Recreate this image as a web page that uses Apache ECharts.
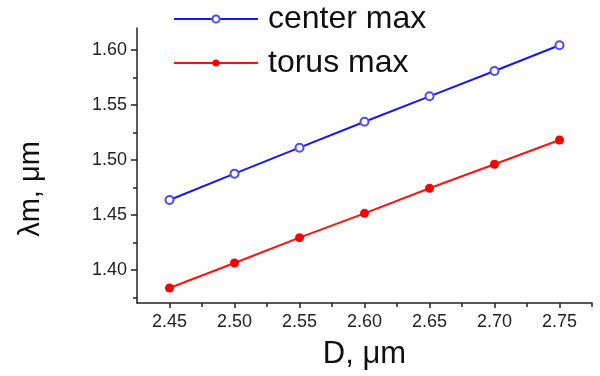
<!DOCTYPE html>
<html>
<head>
<meta charset="utf-8">
<script src="https://cdn.jsdelivr.net/npm/echarts@6/dist/echarts.min.js"></script>
<style>
  html, body { margin: 0; padding: 0; background: #fff; }
</style>
</head>
<body>
<div id="main" style="width:600px;height:376px;"></div>
<script>
// D, um
var dValues = [2.45, 2.50, 2.55, 2.60, 2.65, 2.70, 2.75];
// lambda_m, um
var centerMax = [1.4636, 1.4876, 1.5112, 1.5348, 1.5579, 1.5809, 1.6043];
var torusMax = [1.3836, 1.4064, 1.4294, 1.4515, 1.4743, 1.4961, 1.5182];

var xMajor = [2.45, 2.50, 2.55, 2.60, 2.65, 2.70, 2.75];
var xMinor = [2.475, 2.525, 2.575, 2.625, 2.675, 2.725, 2.775];
var yMajor = [1.40, 1.45, 1.50, 1.55, 1.60];
var yMinor = [1.375, 1.425, 1.475, 1.525, 1.575];

var font = "'Liberation Sans', Arial, sans-serif";
var axisColor = '#222';

var myChart = echarts.init(document.getElementById('main'));

var option = {
    backgroundColor: '#fff',
    animation: false,
    grid: { left: 137, right: 8, top: 28, bottom: 73 },
    legend: {
        orient: 'vertical',
        left: 173,
        top: 3,
        padding: 0,
        itemGap: 12,
        itemWidth: 84,
        itemHeight: 9,
        textStyle: { fontSize: 32, fontFamily: font, color: '#111', lineHeight: 32, padding: [0, 0, 0, 5] },
        data: ['center max', 'torus max']
    },
    xAxis: [{
        type: 'value',
        position: 'bottom',
        min: 2.425,
        max: 2.775,
        name: 'D, μm',
        nameLocation: 'middle',
        nameGap: 36,
        nameTextStyle: { fontSize: 31, fontFamily: font, color: '#111' },
        splitLine: { show: false },
        axisLine: { lineStyle: { color: axisColor, width: 1.5 } },
        axisTick: { customValues: xMajor, length: 5, lineStyle: { color: axisColor, width: 1.5 } },
        axisLabel: {
            customValues: xMajor, margin: 10, fontSize: 18, fontFamily: font, color: '#222',
            formatter: function (v) { return v.toFixed(2); }
        }
    }, {
        type: 'value',
        position: 'bottom',
        min: 2.425,
        max: 2.775,
        splitLine: { show: false },
        axisLine: { show: false },
        axisTick: { customValues: xMinor, length: 4, lineStyle: { color: axisColor, width: 1.5 } },
        axisLabel: { show: false }
    }],
    yAxis: [{
        type: 'value',
        position: 'left',
        min: 1.37,
        max: 1.62,
        splitLine: { show: false },
        axisLine: { show: true, lineStyle: { color: axisColor, width: 1.5 } },
        axisTick: { show: true, customValues: yMajor, length: 6, lineStyle: { color: axisColor, width: 1.5 } },
        axisLabel: {
            customValues: yMajor, margin: 10, fontSize: 18, fontFamily: font, color: '#222',
            formatter: function (v) { return v.toFixed(2); }
        }
    }, {
        type: 'value',
        position: 'left',
        min: 1.37,
        max: 1.62,
        splitLine: { show: false },
        axisLine: { show: false },
        axisTick: { show: true, customValues: yMinor, length: 4, lineStyle: { color: axisColor, width: 1.5 } },
        axisLabel: { show: false }
    }],
    graphic: [{
        type: 'text',
        x: 31,
        y: 189,
        rotation: Math.PI / 2,
        style: {
            text: 'λm, μm',
            font: '29px ' + font,
            fill: '#111',
            textAlign: 'center',
            textVerticalAlign: 'middle'
        }
    }],
    series: [{
        name: 'center max',
        type: 'line',
        data: dValues.map(function (d, i) { return [d, centerMax[i]]; }),
        symbol: 'emptyCircle',
        symbolSize: 8,
        lineStyle: { color: '#1515ff', width: 2 },
        itemStyle: { color: '#4a4aff', borderWidth: 1.5 }
    }, {
        name: 'torus max',
        type: 'line',
        data: dValues.map(function (d, i) { return [d, torusMax[i]]; }),
        symbol: 'circle',
        symbolSize: 9,
        lineStyle: { color: '#ff1010', width: 2 },
        itemStyle: { color: '#ff0000' }
    }]
};

myChart.setOption(option);
</script>
</body>
</html>
